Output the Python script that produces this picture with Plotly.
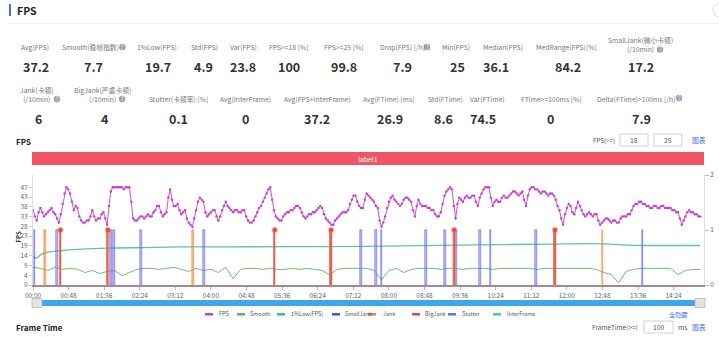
import plotly.graph_objects as go

# ---------------- data ----------------
fps_step = 2.5
fps = [
    36, 33, 31, 35, 37, 35, 33, 34, 35, 36, 37, 35, 34, 32, 30, 34, 39, 44, 47, 46,
    44, 40, 36, 38, 37, 33, 31, 30, 30, 31, 31, 33, 36, 33, 31, 32, 32, 34, 35, 32,
    29, 38, 45, 47, 47, 47, 47, 47, 47, 46, 47, 47, 47, 40, 32, 31, 31, 32, 33, 33,
    32, 33, 34, 33, 33, 35, 36, 38, 38, 35, 33, 34, 35, 42, 46, 41, 38, 38, 39, 36,
    34, 35, 36, 32, 30, 29, 28, 32, 36, 40, 42, 41, 40, 35, 33, 34, 35, 36, 36, 33,
    31, 33, 36, 38, 40, 38, 37, 36, 35, 36, 36, 35, 35, 36, 36, 33, 31, 30, 30, 31,
    33, 35, 37, 38, 40, 42, 44, 46, 47, 41, 36, 33, 32, 31, 31, 33, 34, 35, 35, 36,
    36, 37, 38, 38, 37, 35, 33, 32, 33, 34, 34, 35, 35, 36, 37, 38, 37, 34, 32, 31,
    30, 29, 29, 31, 32, 33, 34, 35, 35, 35, 36, 39, 41, 43, 43, 40, 38, 37, 37, 41,
    44, 43, 42, 41, 40, 38, 37, 31, 28, 30, 33, 37, 40, 42, 43, 41, 40, 39, 38, 39,
    41, 42, 42, 41, 40, 36, 33, 38, 41, 39, 38, 38, 38, 37, 37, 36, 36, 34, 33, 33,
    35, 39, 43, 45, 46, 47, 46, 38, 32, 39, 42, 41, 40, 42, 43, 42, 42, 43, 43, 40,
    38, 42, 44, 46, 47, 47, 47, 42, 38, 40, 41, 40, 40, 42, 43, 42, 42, 43, 44, 45,
    45, 44, 43, 44, 45, 41, 38, 43, 46, 47, 47, 46, 46, 45, 44, 45, 45, 44, 43, 44,
    44, 43, 41, 38, 36, 32, 29, 34, 37, 39, 38, 35, 34, 37, 40, 38, 36, 34, 33, 34,
    35, 34, 33, 34, 34, 31, 29, 30, 31, 32, 32, 31, 30, 31, 31, 30, 30, 32, 33, 33,
    33, 34, 34, 36, 38, 39, 39, 40, 40, 39, 39, 38, 38, 37, 37, 38, 38, 37, 37, 38,
    38, 37, 37, 37, 37, 36, 36, 35, 35, 32, 29, 31, 33, 35, 36, 35, 35, 34, 34, 33,
    33,
]
fps_t = [i * fps_step for i in range(len(fps))]

smooth_step = 10
smooth = [8.5, 8, 7, 8.5, 7.5, 8, 7.5, 6, 7, 5.5, 6.5, 7, 4.5, 6, 7.5, 8, 8, 7.5, 8, 8.5,
          7.5, 6.5, 8, 7, 7.5, 6, 8.5, 3, 7.5, 8, 8, 7.5, 8, 7.5, 7.5, 8, 7.5, 8, 7.5, 7,
          5, 7.5, 8, 8, 8, 8, 7, 2.5, 7, 8, 6, 7.5, 8, 8, 8, 7.5, 8, 8, 7.5, 8,
          8, 8, 7.5, 8, 8, 8, 8, 8, 7.5, 8, 8, 8, 8, 8, 8, 8, 7.5, 6, 5, 1,
          6.5, 7.5, 8, 8, 8, 8, 8, 5, 7, 7.5, 7.5]
smooth_t = [i * smooth_step for i in range(len(smooth))]

low_t = [0, 5, 10, 20, 40, 60, 100, 150, 200, 300, 400, 500, 600, 700, 770, 800, 900]
low = [13.5, 13.0, 14.5, 15.8, 16.6, 17.1, 17.7, 18.0, 18.3, 18.4, 18.5, 18.8, 19.3, 19.7, 19.8, 19.2, 19.0]

smalljank_t = [2, 32, 105, 109, 146, 231, 443, 463, 470, 530, 556, 571, 603, 617, 678, 822]
jank_t = [16, 37, 101, 216, 326, 402, 568, 704, 768]
bigjank_t = [37, 101, 326, 402, 568, 704]

x_tickvals = [0, 48, 96, 144, 192, 240, 288, 336, 384, 432, 480, 528, 576, 624, 672, 720, 768, 816, 864]
x_ticktext = ["00:00", "00:48", "01:36", "02:24", "03:12", "04:00", "04:48", "05:36", "06:24", "07:12",
              "08:00", "08:48", "09:36", "10:24", "11:12", "12:00", "12:48", "13:36", "14:24"]
y_tickvals = [0, 4.7, 9.4, 14.1, 18.8, 23.5, 28.2, 32.9, 37.6, 42.3, 47]
y_ticktext = ["0", "4", "9", "14", "19", "23", "28", "33", "38", "43", "47"]

stat_row1_labels = ["Avg(FPS)", "Smooth(稳帧指数)", "1%Low(FPS)", "Std(FPS)", "Var(FPS)", "FPS>=18 [%]",
                    "FPS>=25 [%]", "Drop(FPS) [/h]", "Min(FPS)", "Median(FPS)", "MedRange(FPS)[%]",
                    "SmallJank(微小卡顿)<br>(/10min)"]
stat_row1_values = ["37.2", "7.7", "19.7", "4.9", "23.8", "100", "99.8", "7.9", "25", "36.1", "84.2", "17.2"]
stat_row2_labels = ["Jank(卡顿)<br>(/10min)", "BigJank(严重卡顿)<br>(/10min)", "Stutter(卡顿率) [%]",
                    "Avg(InterFrame)", "Avg(FPS+InterFrame)", "Avg(FTime) [ms]", "Std(FTime)", "Var(FTime)",
                    "FTime>=100ms [%]", "Delta(FTime)>100ms [/h]"]
stat_row2_values = ["6", "4", "0.1", "0", "37.2", "26.9", "8.6", "74.5", "0", "7.9"]

legend_names = ["FPS", "Smooth", "1%Low(FPS)", "SmallJank", "Jank", "BigJank", "Stutter", "InterFrame"]
legend_colors = ["#c73fc9", "#5cb85c", "#3fb8a0", "#5151e0", "#f0803c", "#e8413c", "#4a7fe0", "#3cc4e0"]

# ---------------- layout helpers ----------------
W, H = 719, 337
L, R, T, B = 33, 704, 175, 285


def px(x):
    return (x - L) / (R - L)


def py(y):
    return (B - y) / (B - T)


FONT = "Noto Sans CJK SC, Noto Sans, sans-serif"

fig = go.Figure()

# jank bars (right axis)
fig.add_trace(go.Bar(x=smalljank_t, y=[1] * len(smalljank_t), width=2.6, yaxis="y2",
                     marker=dict(color="rgba(130,130,240,0.55)", line=dict(color="#5151e0", width=0.5)),
                     name="SmallJank", showlegend=False))
fig.add_trace(go.Bar(x=jank_t, y=[1] * len(jank_t), width=2.0, yaxis="y2",
                     marker=dict(color="rgba(240,128,60,0.6)", line=dict(color="#f0803c", width=0.5)),
                     name="Jank", showlegend=False))
fig.add_trace(go.Bar(x=bigjank_t, y=[1] * len(bigjank_t), width=1.6, yaxis="y2",
                     marker=dict(color="rgba(232,65,60,0.7)", line=dict(color="#e8413c", width=0.5)),
                     name="BigJank", showlegend=False))

# lines (left axis)
fig.add_trace(go.Scatter(x=low_t, y=low, mode="lines", line=dict(color="#5cc4b0", width=1.3, shape="spline"),
                         name="1%Low(FPS)", showlegend=False))
fig.add_trace(go.Scatter(x=smooth_t, y=smooth, mode="lines", line=dict(color="#6cc070", width=1),
                         name="Smooth", showlegend=False))
fig.add_trace(go.Scatter(x=fps_t, y=fps, mode="lines+markers", line=dict(color="#c73fc9", width=0.9),
                         marker=dict(size=2.4, color="#c73fc9"), name="FPS", showlegend=False))
fig.add_trace(go.Scatter(x=bigjank_t, y=[1] * len(bigjank_t), yaxis="y2", mode="markers",
                         marker=dict(size=4.5, color="#e8413c", line=dict(color="rgba(240,110,100,0.45)", width=2)),
                         name="BigJank mark", showlegend=False))

ann = []
shapes = []


def text(x, y, s, size=7.5, color="#666", anchor="center", **kw):
    ann.append(dict(x=px(x), y=py(y), xref="paper", yref="paper", text=s, showarrow=False,
                    xanchor=anchor, yanchor="middle", font=dict(size=size, color=color, family=FONT), **kw))


def rect(x0, y0, x1, y1, fill, line="rgba(0,0,0,0)", lw=0):
    shapes.append(dict(type="rect", xref="paper", yref="paper", x0=px(x0), x1=px(x1), y0=py(y1), y1=py(y0),
                       fillcolor=fill, line=dict(color=line, width=lw), layer="above"))


def hline(x0, x1, y, color, width):
    shapes.append(dict(type="line", xref="paper", yref="paper", x0=px(x0), x1=px(x1), y0=py(y), y1=py(y),
                       line=dict(color=color, width=width), layer="above"))


def qmark(x, y):
    shapes.append(dict(type="circle", xref="paper", yref="paper", x0=px(x - 3.2), x1=px(x + 3.2),
                       y0=py(y + 3.2), y1=py(y - 3.2), fillcolor="#9aa3b5", line=dict(width=0), layer="above"))
    text(x, y, "?", size=5.5, color="white")


# header
rect(9, 4, 11, 16, "#4a6cf0")
text(15, 10, "<b>FPS</b>", size=10.5, color="#222", anchor="left")
hline(9, 719, 23.5, "#eeeeee", 1)
shapes.append(dict(type="circle", xref="paper", yref="paper", x0=px(713), x1=px(727), y0=py(17), y1=py(3),
                   line=dict(color="#dddddd", width=1)))

# stats row 1
r1_x = [35, 90, 157, 204, 243, 289, 344, 403, 456, 503, 566, 640]
r1_vx = [36, 93, 158, 203, 243, 289, 344, 403, 457, 496, 568, 641]
for i, (lab, val) in enumerate(zip(stat_row1_labels, stat_row1_values)):
    ly = 44 if "<br>" in lab else 47
    text(r1_x[i], ly, lab, size=6.8, color="#777")
    text(r1_vx[i], 66, "<b>" + val + "</b>", size=12.5, color="#333")
qmark(122.5, 47)
qmark(427, 47)
qmark(660, 49.5)

# stats row 2
r2_x = [37, 102, 178, 245, 317, 388, 446, 487, 551, 636]
r2_vx = [38, 105, 178, 245, 317, 390, 443, 483, 550, 641]
for i, (lab, val) in enumerate(zip(stat_row2_labels, stat_row2_values)):
    ly = 94.5 if "<br>" in lab else 99
    text(r2_x[i], ly, lab, size=6.8, color="#777")
    text(r2_vx[i], 118, "<b>" + val + "</b>", size=12.5, color="#333")
qmark(57, 99)
qmark(122, 99)
qmark(679, 98)

# chart title and controls
text(14, 141, "<b>FPS</b>", size=8, color="#222", anchor="left")
text(617, 140, "FPS(>=)", size=6.2, color="#555", anchor="right")
rect(620, 134, 648, 146, "white", "#d0d0d0", 1)
text(634, 140, "18", size=6.8, color="#555")
rect(654, 134, 682, 146, "white", "#d0d0d0", 1)
text(668, 140, "25", size=6.8, color="#555")
text(699, 140, "图表", size=6.8, color="#3b6cf0")

# label bar
rect(32, 152, 704, 165, "#ef5565")
text(368, 158.5, "label1", size=6.8, color="white")

# y axis title
ann.append(dict(x=px(11), y=py(237), xref="paper", yref="paper", text="<b>FPS</b>", showarrow=False,
                textangle=-90, font=dict(size=6, color="#333", family=FONT)))

# scrollbar
rect(33, 300, 704, 306, "#3da7ea")
rect(32, 298.5, 42, 307.5, "#e4e4e4", "#b8b8b8", 0.8)
rect(695, 298.5, 705, 307.5, "#e4e4e4", "#b8b8b8", 0.8)

# custom legend
leg_icon_x = [205, 237, 277, 332, 368, 412, 448, 493]
leg_text_x = [217, 248, 289, 343, 381, 423, 460, 505]
for name, col, ix, tx in zip(legend_names, legend_colors, leg_icon_x, leg_text_x):
    hline(ix, ix + 8, 314.3, col, 2.5)
    text(tx, 314.3, name, size=5.5, color="#555", anchor="left")
text(678, 314.3, "全隐藏", size=6.2, color="#3b6cf0")

# Frame Time section
text(14, 327.5, "<b>Frame Time</b>", size=8, color="#222", anchor="left")
text(640, 327, "FrameTime(>=)", size=6.5, color="#555", anchor="right")
rect(644, 321, 673, 333, "white", "#d0d0d0", 1)
text(658.5, 327, "100", size=6.8, color="#555")
text(682, 327, "ms", size=6.8, color="#555")
text(699, 327, "图表", size=6.8, color="#3b6cf0")

fig.update_layout(
    width=W, height=H,
    margin=dict(l=L, r=W - R, t=T, b=H - B, pad=0),
    paper_bgcolor="white", plot_bgcolor="white",
    showlegend=False, barmode="overlay", bargap=0,
    font=dict(family=FONT, size=7, color="#666"),
    xaxis=dict(range=[0, 905], tickvals=x_tickvals, ticktext=x_ticktext, showgrid=False, zeroline=False,
               showline=True, linecolor="#a08c8c", linewidth=2, ticks="outside", ticklen=3, tickcolor="#bbbbbb",
               tickfont=dict(size=6.5, color="#666"), automargin=False),
    yaxis=dict(range=[0, 52.9], tickvals=y_tickvals, ticktext=y_ticktext, showgrid=False, zeroline=False,
               showline=True, linecolor="#dddddd", ticks="outside", ticklen=3, tickcolor="#cccccc",
               tickfont=dict(size=6.5, color="#666"), automargin=False),
    yaxis2=dict(range=[0, 2], overlaying="y", side="right", tickvals=[0, 1, 2], showgrid=False, zeroline=False,
                showline=True, linecolor="#dddddd", ticks="outside", ticklen=4, tickcolor="#bbbbbb",
                tickfont=dict(size=6.5, color="#666"), automargin=False),
    annotations=ann,
    shapes=shapes,
)

fig.write_html("out.html")
